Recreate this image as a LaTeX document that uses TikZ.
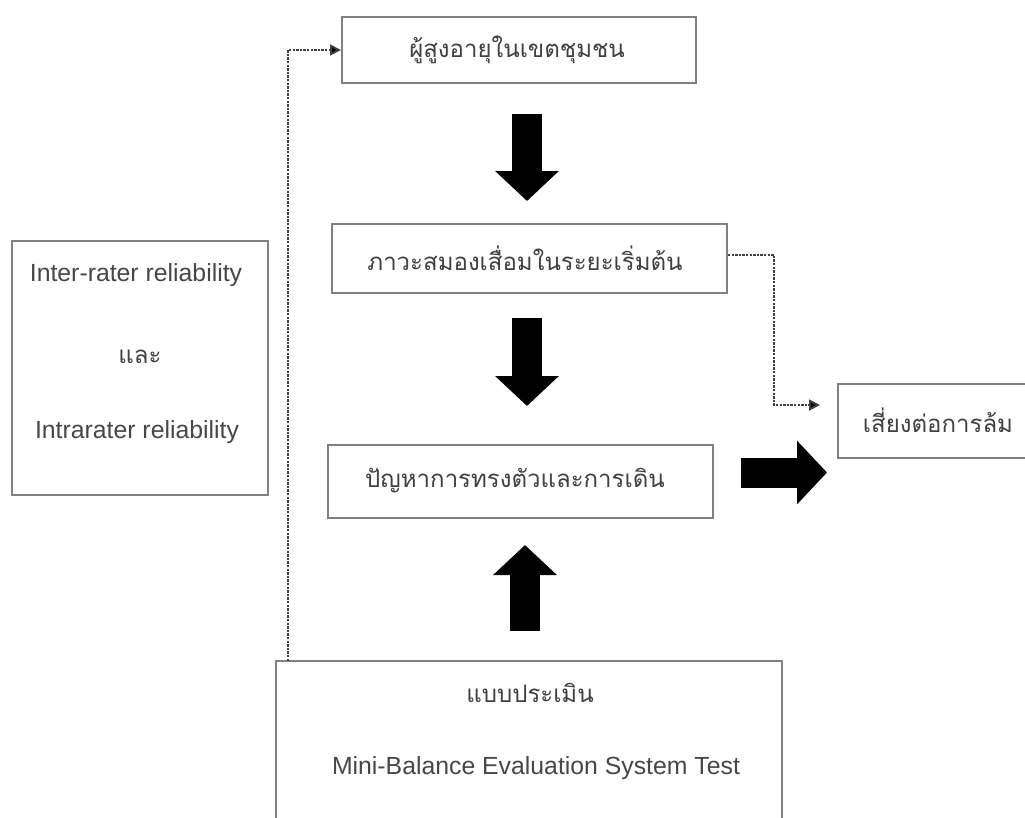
\documentclass[tikz,border=0pt]{standalone}
\usepackage{fontspec}
\setmainfont{Liberation Sans}
\newfontfamily\thaifont[Script=Thai]{Loma}
\usetikzlibrary{arrows.meta,calc}
\tikzset{
  box/.style={draw=black!50, line width=2pt, rectangle, inner sep=0pt},
  thai/.style={font=\thaifont\fontsize{24}{28}\selectfont, text=black!75},
  latin/.style={font=\fontsize{24.8}{29}\selectfont, text=black!72},
  blockarrow/.style={draw=black, line width=30pt, -{Triangle[length=30pt,width=62pt]}},
  dotline/.style={draw=black!75, line width=1.8pt, dash pattern=on 2.4pt off 1.2pt, -{Triangle[length=11pt,width=11pt,fill=black]}},
}
\begin{document}
\begin{tikzpicture}[x=1pt,y=-1pt]
\useasboundingbox (0,0) rectangle (1025,817);
\clip (0,0) rectangle (1025,817);
\fill[white] (0,0) rectangle (1025,817);
% boxes
\node[box, minimum width=354pt, minimum height=66pt] (b1) at (519,50) {};
\node[thai] (t1) at (517,50) {ผู้สูงอายุในเขตชุมชน};
\node[box, minimum width=395pt, minimum height=69pt] (b2) at (529.5,258.5) {};
\node[thai] (t2) at (525,258) {ภาวะสมองเสื่อมในระยะเริ่มต้น};
\node[box, minimum width=385pt, minimum height=73pt] (b3) at (520.5,481.5) {};
\node[thai] (t3) at (515,481) {ปัญหาการทรงตัวและการเดิน};
\node[box, minimum width=192pt, minimum height=74pt] (b4) at (934,421) {};
\node[thai] (t4) at (938,420) {เสี่ยงต่อการล้ม};
\node[box, minimum width=256pt, minimum height=254pt] (b5) at (140,368) {};
\node[latin] (t5a) at (136,275) {Inter-rater reliability};
\node[thai] (t5b) at (140,357) {และ};
\node[latin] (t5c) at (137,432) {Intrarater reliability};
\node[box, minimum width=506pt, minimum height=180pt] (b6) at (529,751) {};
\node[thai] (t6a) at (530,693) {แบบประเมิน};
\node[latin] (t6b) at (536,768) {Mini-Balance Evaluation System Test};
% helper coordinates
\coordinate (ax) at (527,0);
\coordinate (ax3) at (525,0);
\coordinate (ay) at (0,472.5);
\coordinate (d1) at (288,661);
\coordinate (d2) at (0,255);
\coordinate (d3) at (0,405);
% block arrows
\draw[blockarrow, shorten <=30pt, shorten >=22pt] (b1.south -| ax) -- (b2.north -| ax);
\draw[blockarrow, shorten <=24pt, shorten >=38pt] (b2.south -| ax) -- (b3.north -| ax);
\draw[blockarrow, shorten <=29pt, shorten >=26pt] (b6.north -| ax3) -- (b3.south -| ax3);
\draw[blockarrow, shorten <=27pt, shorten >=10pt] (b3.east |- ay) -- (b4.west |- ay);
% dotted connectors
\draw[dotline] (d1) |- (b1.west);
\draw[dotline, shorten >=17pt] (b2.east |- d2) -- ++(46,0) |- (b4.west |- d3);
\end{tikzpicture}
\end{document}
